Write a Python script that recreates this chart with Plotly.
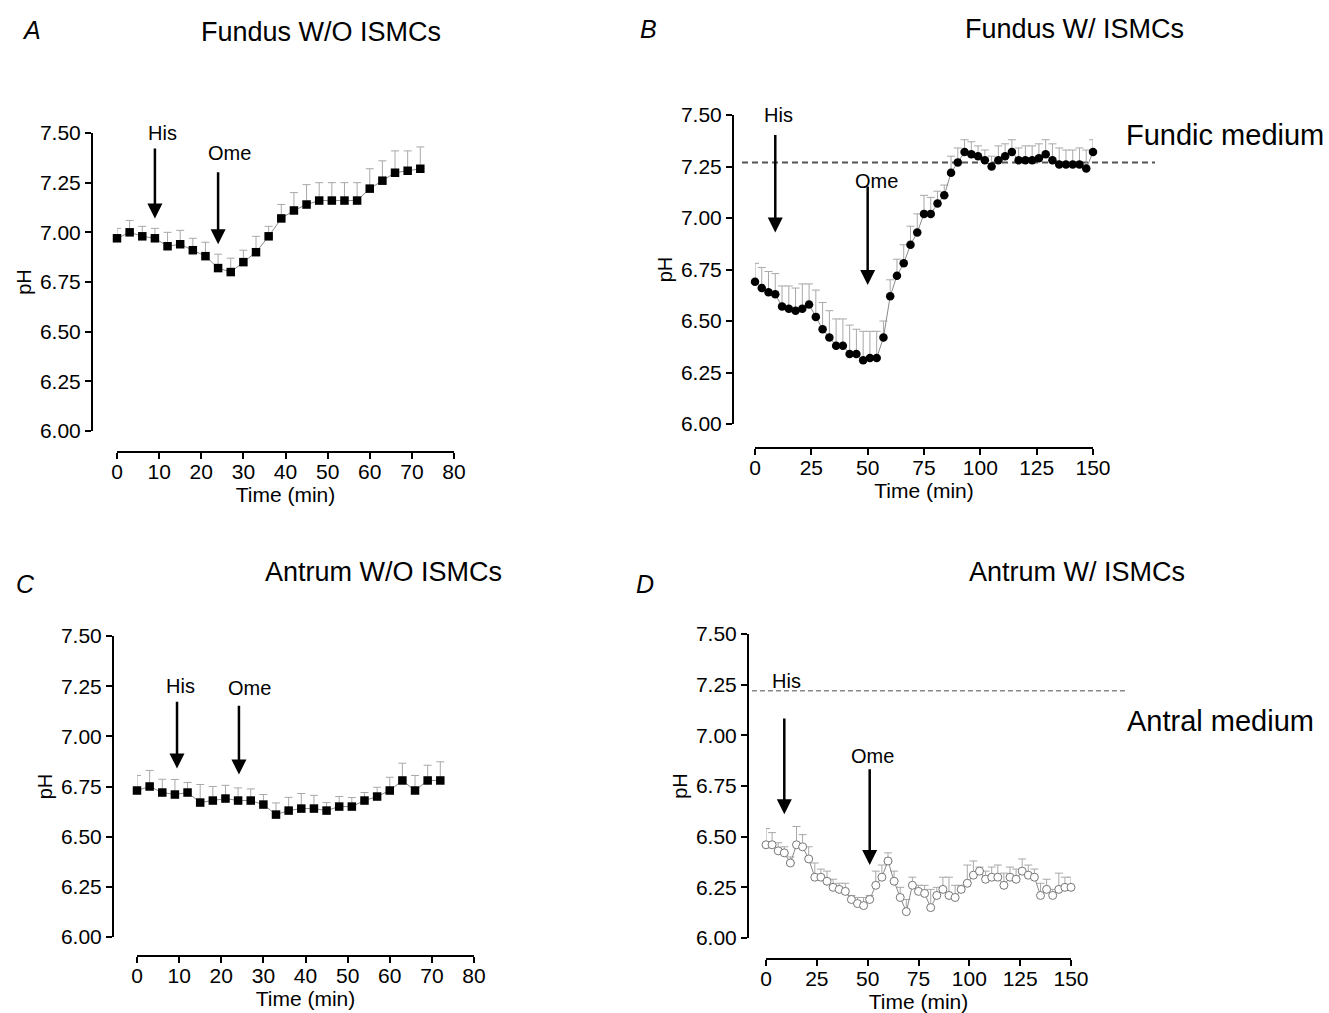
import plotly.graph_objects as go

W, H = 1329, 1013
FONT = "Liberation Sans, Arial, sans-serif"

# ---------------- data ----------------
tA = list(range(0, 73, 3))
pA = [6.97, 7.00, 6.98, 6.97, 6.93, 6.94, 6.91, 6.88, 6.82, 6.80, 6.85, 6.90, 6.98,
      7.07, 7.11, 7.14, 7.16, 7.16, 7.16, 7.16, 7.22, 7.26, 7.30, 7.31, 7.32]
errA = [0.05, 0.06, 0.05, 0.05, 0.07, 0.07, 0.06, 0.07, 0.07, 0.07, 0.06, 0.08, 0.05,
        0.07, 0.09, 0.10, 0.09, 0.09, 0.09, 0.09, 0.10, 0.10, 0.11, 0.10, 0.11]

tB = list(range(0, 151, 3))
pB = [6.69, 6.66, 6.64, 6.63, 6.57, 6.56, 6.55, 6.56, 6.58, 6.52, 6.46, 6.42, 6.38,
      6.38, 6.34, 6.34, 6.31, 6.32, 6.32, 6.42, 6.62, 6.72, 6.78, 6.87, 6.93, 7.02,
      7.02, 7.07, 7.11, 7.22, 7.27, 7.32, 7.31, 7.30, 7.28, 7.25, 7.28, 7.30, 7.32,
      7.28, 7.28, 7.28, 7.29, 7.31, 7.28, 7.26, 7.26, 7.26, 7.26, 7.24, 7.32]
errB = [0.09, 0.10, 0.10, 0.10, 0.10, 0.11, 0.11, 0.12, 0.10, 0.13, 0.13, 0.13, 0.13,
        0.13, 0.14, 0.12, 0.14, 0.13, 0.13, 0.08, 0.08, 0.08, 0.09, 0.09, 0.09, 0.09,
        0.08, 0.06, 0.05, 0.08, 0.07, 0.06, 0.06, 0.05, 0.05, 0.05, 0.07, 0.06, 0.06,
        0.06, 0.07, 0.07, 0.07, 0.07, 0.08, 0.08, 0.07, 0.07, 0.08, 0.09, 0.06]

tC = list(range(0, 73, 3))
pC = [6.73, 6.75, 6.72, 6.71, 6.72, 6.67, 6.68, 6.69, 6.68, 6.68, 6.66, 6.61, 6.63,
      6.64, 6.64, 6.63, 6.65, 6.65, 6.68, 6.70, 6.73, 6.78, 6.73, 6.78, 6.78]
errC = [0.075, 0.08, 0.066, 0.075, 0.05, 0.09, 0.07, 0.066, 0.063, 0.058, 0.05, 0.058, 0.066,
        0.075, 0.066, 0.04, 0.05, 0.045, 0.04, 0.046, 0.066, 0.086, 0.075, 0.076, 0.093]

tD = list(range(0, 151, 3))
pD = [6.46, 6.46, 6.43, 6.42, 6.37, 6.46, 6.45, 6.39, 6.30, 6.30, 6.28, 6.25, 6.24,
      6.23, 6.19, 6.17, 6.16, 6.19, 6.26, 6.30, 6.38, 6.28, 6.20, 6.13, 6.26, 6.23,
      6.22, 6.15, 6.21, 6.24, 6.21, 6.20, 6.24, 6.27, 6.31, 6.33, 6.29, 6.30, 6.30,
      6.26, 6.30, 6.29, 6.33, 6.31, 6.30, 6.21, 6.24, 6.21, 6.24, 6.25, 6.25]
errD = [0.08, 0.06, 0.04, 0.03, 0.03, 0.09, 0.06, 0.06, 0.07, 0.04, 0.05, 0.04, 0.03,
        0.04, 0.02, 0.03, 0.04, 0.02, 0.07, 0.06, 0.04, 0.05, 0.05, 0.06, 0.04, 0.03,
        0.04, 0.09, 0.04, 0.06, 0.09, 0.06, 0.02, 0.09, 0.07, 0.02, 0.04, 0.05, 0.06,
        0.06, 0.05, 0.05, 0.06, 0.05, 0.04, 0.06, 0.05, 0.03, 0.08, 0.05, 0.05]

yticks = [6.00, 6.25, 6.50, 6.75, 7.00, 7.25, 7.50]
xticks80 = [0, 10, 20, 30, 40, 50, 60, 70, 80]
xticks150 = [0, 25, 50, 75, 100, 125, 150]

titles = ["Fundus W/O ISMCs", "Fundus W/ ISMCs", "Antrum W/O ISMCs", "Antrum W/ ISMCs"]
letters = ["A", "B", "C", "D"]
medium_labels = {2: ("Fundic medium", 7.27), 4: ("Antral medium", 7.22)}

# arrows: (x, head y, tail y, text x, text y)
arrowsA = {"His": (9, 7.07, 7.43, 10.9, 7.50), "Ome": (24, 6.94, 7.31, 26.6, 7.40)}
arrowsB = {"His": (9, 6.93, 7.41, 10.3, 7.50), "Ome": (50, 6.675, 7.16, 53.7, 7.18)}
arrowsC = {"His": (9.5, 6.84, 7.18, 10.4, 7.25), "Ome": (24.2, 6.81, 7.16, 26.7, 7.24)}
arrowsD = {"His": (9, 6.61, 7.09, 10.2, 7.27), "Ome": (51, 6.36, 6.84, 52.6, 6.90)}

# ---------------- geometry (pixels) ----------------
geo = {
    1: dict(xd=(117, 454), yd=(133, 431), xl=452, yl=92, xmax=80, xt=xticks80),
    2: dict(xd=(755, 1093), yd=(115, 424), xl=448, yl=733, xmax=150, xt=xticks150),
    3: dict(xd=(137, 474), yd=(636, 937), xl=956, yl=113, xmax=80, xt=xticks80),
    4: dict(xd=(766, 1071), yd=(634, 938), xl=959, yl=748, xmax=150, xt=xticks150),
}

fig = go.Figure()
layout_axes = {}
annotations = []
shapes = []

series = {
    1: (tA, pA, errA, "square", "black", "black", arrowsA),
    2: (tB, pB, errB, "circle", "black", "black", arrowsB),
    3: (tC, pC, errC, "square", "black", "black", arrowsC),
    4: (tD, pD, errD, "circle", "white", "#777777", arrowsD),
}

for i in range(1, 5):
    g = geo[i]
    t, p, e, sym, fill, edge, arrows = series[i]
    xid = "x" if i == 1 else f"x{i}"
    yid = "y" if i == 1 else f"y{i}"
    xkey = "xaxis" if i == 1 else f"xaxis{i}"
    ykey = "yaxis" if i == 1 else f"yaxis{i}"

    fig.add_trace(go.Scatter(
        x=t, y=p, xaxis=xid, yaxis=yid, mode="lines+markers",
        line=dict(color="#8a8a8a", width=1),
        marker=dict(symbol=sym, size=8.5 if i != 4 else 8, color=fill,
                    line=dict(color=edge, width=1 if i == 4 else 0)),
        error_y=dict(type="data", symmetric=False, array=e, arrayminus=[0] * len(e),
                     color="#a8a8a8", thickness=1, width=4),
        cliponaxis=False, showlegend=False,
    ))

    layout_axes[xkey] = dict(
        domain=[g["xd"][0] / W, g["xd"][1] / W], range=[0, g["xmax"]],
        anchor="free", position=1 - g["xl"] / H, automargin=False,
        showline=True, linewidth=2, linecolor="black", mirror=False,
        ticks="outside", ticklen=6, tickwidth=2, tickcolor="black",
        ticklabelstandoff=-5,
        tickvals=g["xt"], tickfont=dict(size=21, color="black", family=FONT),
        showgrid=False, zeroline=False,
        title=dict(text="Time (min)", font=dict(size=21, color="black", family=FONT), standoff=1),
    )
    layout_axes[ykey] = dict(
        domain=[1 - g["yd"][1] / H, 1 - g["yd"][0] / H], range=[6.0, 7.5],
        anchor="free", position=g["yl"] / W, automargin=False,
        showline=True, linewidth=2, linecolor="black",
        ticks="outside", ticklen=6, tickwidth=2, tickcolor="black",
        tickvals=yticks, tickformat=".2f",
        tickfont=dict(size=21, color="black", family=FONT),
        showgrid=False, zeroline=False,
        title=dict(text="pH", font=dict(size=20, color="black", family=FONT), standoff=2),
    )

    for name, (ax_, yh, yt, tx, ty) in arrows.items():
        annotations.append(dict(
            x=ax_, y=yh, ax=ax_, ay=yt, xref=xid, yref=yid, axref=xid, ayref=yid,
            text="", showarrow=True, arrowhead=2, arrowsize=1.2, arrowwidth=2.5,
            arrowcolor="black", standoff=0, startstandoff=0))
        annotations.append(dict(
            x=tx, y=ty, xref=xid, yref=yid, text=name, showarrow=False,
            font=dict(size=20, color="black", family=FONT)))

    if i in medium_labels:
        lbl, yv = medium_labels[i]
        if i == 2:
            shapes.append(dict(type="line", xref="paper", yref=yid, x0=742 / W, x1=1155 / W,
                               y0=yv, y1=yv, layer="below",
                               line=dict(color="#555555", width=2, dash="6px,4px")))
        else:
            shapes.append(dict(type="line", xref="paper", yref=yid, x0=752 / W, x1=1128 / W,
                               y0=yv, y1=yv, layer="below",
                               line=dict(color="#888888", width=1.5, dash="5px,3px")))

title_pos = [(321, 32), (1074, 29), (384, 572), (1077, 572)]
letter_pos = [(31, 30), (648, 29), (25, 584), (645, 584)]
for k in range(4):
    annotations.append(dict(x=title_pos[k][0] / W, y=1 - title_pos[k][1] / H,
                            xref="paper", yref="paper", text=titles[k], showarrow=False,
                            xanchor="center", yanchor="middle",
                            font=dict(size=27, color="black", family=FONT)))
    annotations.append(dict(x=letter_pos[k][0] / W, y=1 - letter_pos[k][1] / H,
                            xref="paper", yref="paper", text=f"<i>{letters[k]}</i>",
                            showarrow=False, xanchor="center", yanchor="middle",
                            font=dict(size=25, color="black", family=FONT)))

annotations.append(dict(x=1225 / W, y=1 - 135 / H, xref="paper", yref="paper",
                        text="Fundic medium", showarrow=False, xanchor="center", yanchor="middle",
                        font=dict(size=29, color="black", family=FONT)))
annotations.append(dict(x=1220 / W, y=1 - 721 / H, xref="paper", yref="paper",
                        text="Antral medium", showarrow=False, xanchor="center", yanchor="middle",
                        font=dict(size=29, color="black", family=FONT)))

fig.update_layout(
    width=W, height=H, margin=dict(l=0, r=0, t=0, b=0, pad=0, autoexpand=False),
    paper_bgcolor="white", plot_bgcolor="rgba(0,0,0,0)",
    font=dict(family=FONT, color="black"),
    annotations=annotations, shapes=shapes, showlegend=False,
    **layout_axes,
)

fig.write_html(
    "out.html",
    config={"displayModeBar": False},
    post_script="document.body.style.margin='0';document.body.style.overflow='hidden';",
)
